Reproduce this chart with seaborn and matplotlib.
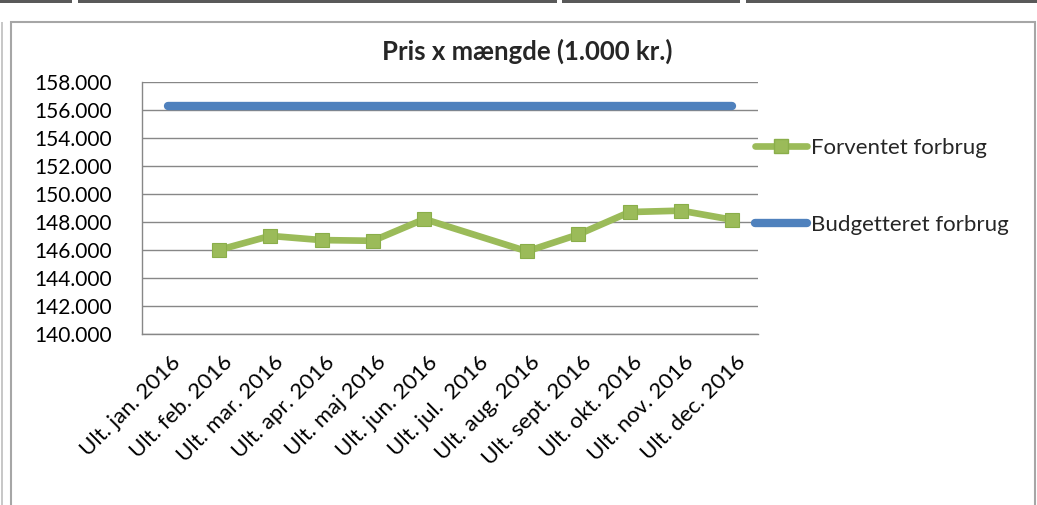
import matplotlib
matplotlib.use("Agg")
import matplotlib.pyplot as plt
import matplotlib.patches as mpatches
import matplotlib.transforms as mtransforms
from matplotlib.lines import Line2D
from matplotlib.ticker import FuncFormatter, FixedLocator
import seaborn as sns
import pandas as pd
import numpy as np

# ---------------- data ----------------
months = ["Ult. jan. 2016", "Ult. feb. 2016", "Ult. mar. 2016", "Ult. apr. 2016",
          "Ult. maj 2016", "Ult. jun. 2016", "Ult. jul.  2016", "Ult. aug. 2016",
          "Ult. sept. 2016", "Ult. okt. 2016", "Ult. nov. 2016", "Ult. dec. 2016"]
budgetteret = [156300, 156300, 156300, 156300, 156300, 156300,
               156300, 156300, 156300, 156300, 156300, 156300]
forventet = [None, 146000, 147000, 146700, 146650, 148200,
             None, 145900, 147100, 148700, 148800, 148150]
y_ticks = [140000, 142000, 144000, 146000, 148000, 150000,
           152000, 154000, 156000, 158000]
title = "Pris x mængde (1.000 kr.)"
label_forv = "Forventet forbrug"
label_budg = "Budgetteret forbrug"

sns.set_style("white")
plt.rcParams["font.family"] = ["Lato", "DejaVu Sans"]

GREEN = "#9BBB59"
BLUE = "#4F81BD"
GRID = "#878787"

W, H = 1037, 505
fig = plt.figure(figsize=(W / 100, H / 100), dpi=100)

# document frame artifacts
fig.patches.append(mpatches.Rectangle((11 / W, -0.1), (1035 - 11) / W, (H - 22) / H + 0.1,
                                      transform=fig.transFigure, fill=False,
                                      edgecolor="#A6A6A6", linewidth=1.5))
for x0, x1 in [(0, 72), (78, 557), (562, 740), (746, 1037)]:
    fig.patches.append(mpatches.Rectangle((x0 / W, 1 - 3 / H), (x1 - x0) / W, 3 / H,
                                          transform=fig.transFigure, color="#595959",
                                          linewidth=0))
fig.patches.append(mpatches.Rectangle((1 / W, 0), 1.5 / W, (H - 22) / H,
                                      transform=fig.transFigure, color="#C8C8C8",
                                      linewidth=0))

left, right, top, bottom = 142, 758, 81.7, 334
ax = fig.add_axes([left / W, 1 - bottom / H, (right - left) / W, (bottom - top) / H])

pos = list(range(len(months)))
df_b = pd.DataFrame({"pos": pos, "value": budgetteret})
df_f = pd.DataFrame({"pos": pos, "value": forventet}).dropna()

sns.lineplot(data=df_b, x="pos", y="value", ax=ax, color=BLUE, linewidth=6,
             solid_capstyle="round", zorder=3, legend=False)
sns.lineplot(data=df_f, x="pos", y="value", ax=ax, color=GREEN, linewidth=4.8,
             marker="s", markersize=10, markerfacecolor=GREEN,
             markeredgecolor="#8AAE4A", markeredgewidth=0.8, zorder=4, legend=False)

ax.set_xlim(-0.5, len(months) - 0.5)
ax.set_ylim(y_ticks[0], y_ticks[-1])
ax.set_yticks(y_ticks)
ax.yaxis.set_major_formatter(FuncFormatter(lambda v, p: f"{v:,.0f}".replace(",", ".")))
ax.grid(axis="y", color=GRID, linewidth=1)
ax.grid(axis="x", visible=False)
ax.set_axisbelow(True)

for s in ["top", "right"]:
    ax.spines[s].set_visible(False)
for s in ["left", "bottom"]:
    ax.spines[s].set_color(GRID)
    ax.spines[s].set_linewidth(1)

ax.set_xlabel("")
ax.set_ylabel("")

# x: labels at category centres, tick marks at boundaries
ax.set_xticks(pos)
ax.set_xticklabels(months)
ax.xaxis.set_minor_locator(FixedLocator(np.arange(-0.5, len(months), 1.0)))
ax.tick_params(axis="x", which="major", length=0, pad=13, labelsize=16, colors="black")
ax.tick_params(axis="x", which="minor", length=6, width=1, color=GRID, direction="out")
ax.tick_params(axis="y", which="major", length=6, width=1, color=GRID, direction="out",
               pad=16, labelsize=15, labelcolor="black")
offset = mtransforms.ScaledTranslation(3 / 100, 0, fig.dpi_scale_trans)
for lab in ax.get_xticklabels():
    lab.set_rotation(45)
    lab.set_ha("right")
    lab.set_va("top")
    lab.set_rotation_mode("anchor")
    lab.set_transform(lab.get_transform() + offset)

ax.set_title(title, fontsize=18.5, fontweight="bold", pad=16)
ax.title.set_position((0.625, 1.0))

handles = [
    Line2D([], [], color=GREEN, linewidth=4.8, marker="s", markersize=10,
           markerfacecolor=GREEN, markeredgecolor="#8AAE4A", solid_capstyle="round"),
    Line2D([], [], color=BLUE, linewidth=6, solid_capstyle="round"),
]
fig.legend(handles, [label_forv, label_budg], loc="upper left",
           bbox_to_anchor=(755 / W, 1 - 138 / H), frameon=False, fontsize=16,
           handlelength=2.35, handletextpad=0.15, labelspacing=2.55, borderpad=0,
           borderaxespad=0)

fig.savefig("out.png", dpi=100)
